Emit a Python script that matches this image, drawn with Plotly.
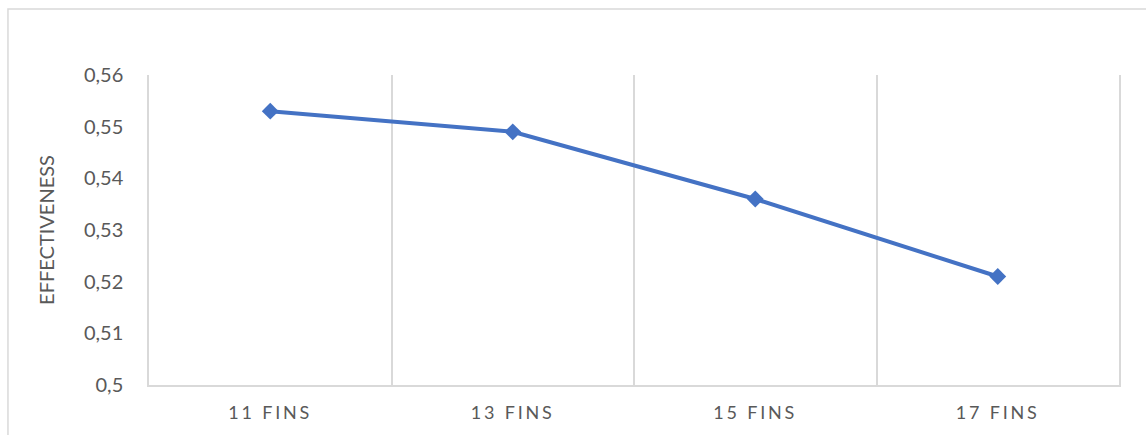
import plotly.graph_objects as go

# Effectiveness versus number of fins
categories = ["11 FINS", "13 FINS", "15 FINS", "17 FINS"]
effectiveness = [0.553, 0.549, 0.536, 0.521]

y_tick_vals = [0.50, 0.51, 0.52, 0.53, 0.54, 0.55, 0.56]
y_tick_text = ["0,5", "0,51", "0,52", "0,53", "0,54", "0,55", "0,56"]

grid_color = "#d9d9d9"
text_color = "#595959"
line_color = "#4472C4"

fig = go.Figure(
    go.Scatter(
        x=categories,
        y=effectiveness,
        mode="lines+markers",
        line=dict(color=line_color, width=4),
        marker=dict(symbol="diamond", size=13, color=line_color),
        showlegend=False,
    )
)

fig.update_layout(
    width=1146,
    height=435,
    margin=dict(l=149, r=27, t=75, b=50),
    paper_bgcolor="white",
    plot_bgcolor="white",
    font=dict(family="Lato, Calibri, sans-serif", color=text_color),
    shapes=[
        # outer chart frame
        dict(
            type="rect", xref="paper", yref="paper",
            x0=-0.1454, x1=1.05, y0=-0.2, y1=1.2129,
            line=dict(color=grid_color, width=1.5),
            fillcolor="rgba(0,0,0,0)", layer="below",
        )
    ],
)

fig.update_xaxes(
    type="category",
    range=[-0.5, 3.5],
    tickson="boundaries",
    showgrid=True,
    gridcolor=grid_color,
    gridwidth=1.5,
    showline=True,
    linecolor=grid_color,
    linewidth=1.5,
    ticks="",
    tickfont=dict(size=18, color=text_color),
    ticklabelstandoff=11,
)

fig.update_yaxes(
    range=[0.5, 0.56],
    tickvals=y_tick_vals,
    ticktext=y_tick_text,
    showgrid=False,
    zeroline=False,
    showline=True,
    mirror=True,
    linecolor=grid_color,
    linewidth=1.5,
    ticks="",
    tickfont=dict(size=20, color=text_color),
    ticklabelstandoff=20,
    title=dict(text="EFFECTIVENESS", font=dict(size=20, color=text_color), standoff=24),
)

post = """
var gd = document.getElementById('{plot_id}');
gd.querySelectorAll('.xtick text').forEach(function(t){ t.style.letterSpacing = '2.8px'; });
"""

fig.write_html("out.html", post_script=post)
